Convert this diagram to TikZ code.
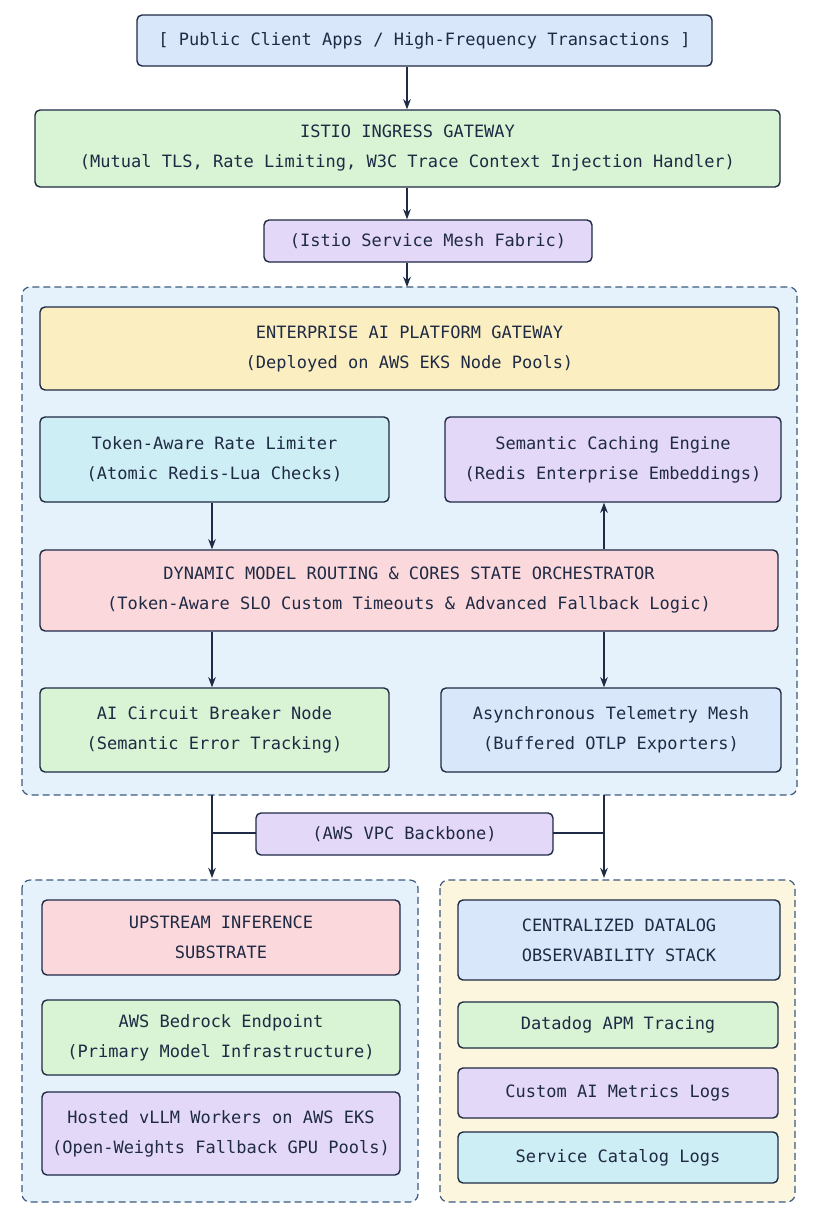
\documentclass[tikz,border=0pt]{standalone}
\usepackage{fontspec}
\setmainfont{DejaVu Sans Mono}
\usetikzlibrary{arrows.meta, positioning}

\definecolor{ink}{HTML}{1F2A44}
\definecolor{cblue}{HTML}{D9E7FA}
\definecolor{cgreen}{HTML}{D8F4D4}
\definecolor{cpurple}{HTML}{E4D8F8}
\definecolor{cyellow}{HTML}{FBEFC2}
\definecolor{ccyan}{HTML}{CDEEF4}
\definecolor{cpink}{HTML}{FAD8DC}
\definecolor{zoneblue}{HTML}{E6F2FB}
\definecolor{zoneyellow}{HTML}{FDF6DE}
\definecolor{zoneline}{HTML}{3A5A80}

\begin{document}
\begin{tikzpicture}[
    x=1pt, y=-1pt,
    >=Stealth,
    box/.style={rectangle, rounded corners=5pt, draw=ink, line width=1.4pt,
        text=ink, align=center, inner sep=2pt,
        font=\fontsize{17}{30}\selectfont},
    zone/.style={rectangle, rounded corners=8pt, draw=zoneline, line width=1.2pt,
        dash pattern=on 7pt off 4pt},
    link/.style={->, draw=ink, line width=1.6pt}
]
    \useasboundingbox (0,0) rectangle (819,1229);

    % Zones ------------------------------------------------------

    \draw[zone, fill=zoneblue] (22,287) rectangle (797,795);
    \draw[zone, fill=zoneblue] (22,880) rectangle (418,1202);
    \draw[zone, fill=zoneyellow] (440,880) rectangle (795,1202);

    % Nodes ------------------------------------------------------

    \node[box, fill=cblue, minimum width=575, minimum height=51] (client) at (424.5,40.5)
        {[ Public Client Apps / High-Frequency Transactions ]};
    \node[box, fill=cgreen, minimum width=745, minimum height=77] (ingress) at (407.5,148.5)
        {ISTIO INGRESS GATEWAY\\(Mutual TLS, Rate Limiting, W3C Trace Context Injection Handler)};
    \node[box, fill=cpurple, minimum width=328, minimum height=42] (mesh) at (428,241)
        {(Istio Service Mesh Fabric)};
    \coordinate (platformtop) at (407,287);

    \node[box, fill=cyellow, minimum width=739, minimum height=83] (platform) at (409.5,348.5)
        {ENTERPRISE AI PLATFORM GATEWAY\\(Deployed on AWS EKS Node Pools)};
    \node[box, fill=ccyan, minimum width=349, minimum height=85] (limiter) at (214.5,459.5)
        {Token-Aware Rate Limiter\\(Atomic Redis-Lua Checks)};
    \node[box, fill=cpurple, minimum width=336, minimum height=85] (cache) at (613,459.5)
        {Semantic Caching Engine\\(Redis Enterprise Embeddings)};
    \node[box, fill=cpink, minimum width=738, minimum height=81] (router) at (409,590.5)
        {DYNAMIC MODEL ROUTING \& CORES STATE ORCHESTRATOR\\(Token-Aware SLO Custom Timeouts \& Advanced Fallback Logic)};
    \node[box, fill=cgreen, minimum width=349, minimum height=84] (breaker) at (214.5,730)
        {AI Circuit Breaker Node\\(Semantic Error Tracking)};
    \node[box, fill=cblue, minimum width=340, minimum height=84] (telemetry) at (611,730)
        {Asynchronous Telemetry Mesh\\(Buffered OTLP Exporters)};

    \coordinate (leftout) at (212,795);
    \coordinate (rightout) at (604,795);
    \coordinate (leftin) at (212,878);
    \coordinate (rightin) at (604,878);
    \coordinate (leftmid) at (212,833);
    \coordinate (rightmid) at (604,833);

    \draw[draw=ink, line width=1.6pt] (leftmid) -- (rightmid);
    \node[box, fill=cpurple, minimum width=297, minimum height=42] (vpc) at (404.5,834)
        {(AWS VPC Backbone)};

    \node[box, fill=cpink, minimum width=358, minimum height=75] (upstream) at (221,937.5)
        {UPSTREAM INFERENCE\\SUBSTRATE};
    \node[box, fill=cgreen, minimum width=358, minimum height=75] (bedrock) at (221,1037.5)
        {AWS Bedrock Endpoint\\(Primary Model Infrastructure)};
    \node[box, fill=cpurple, minimum width=358, minimum height=83] (vllm) at (221,1133.5)
        {Hosted vLLM Workers on AWS EKS\\(Open-Weights Fallback GPU Pools)};

    \node[box, fill=cblue, minimum width=322, minimum height=80] (datalog) at (619,940)
        {CENTRALIZED DATALOG\\OBSERVABILITY STACK};
    \node[box, fill=cgreen, minimum width=320, minimum height=46] (apm) at (618,1025)
        {Datadog APM Tracing};
    \node[box, fill=cpurple, minimum width=320, minimum height=50] (metrics) at (618,1093)
        {Custom AI Metrics Logs};
    \node[box, fill=ccyan, minimum width=320, minimum height=51] (catalog) at (618,1157.5)
        {Service Catalog Logs};

    % Arrows ---------------------------------------------------

    \draw[link] (client.south -| 407,0) -- (ingress.north -| 407,0);
    \draw[link] (ingress.south -| 407,0) -- (mesh.north -| 407,0);
    \draw[link] (mesh.south -| 407,0) -- (platformtop);
    \draw[link] (limiter.south -| 212,0) -- (router.north -| 212,0);
    \draw[link] (router.north -| 604,0) -- (cache.south -| 604,0);
    \draw[link] (router.south -| 212,0) -- (breaker.north -| 212,0);
    \draw[link] (router.south -| 604,0) -- (telemetry.north -| 604,0);
    \draw[link] (leftout) -- (leftin);
    \draw[link] (rightout) -- (rightin);

\end{tikzpicture}
\end{document}
